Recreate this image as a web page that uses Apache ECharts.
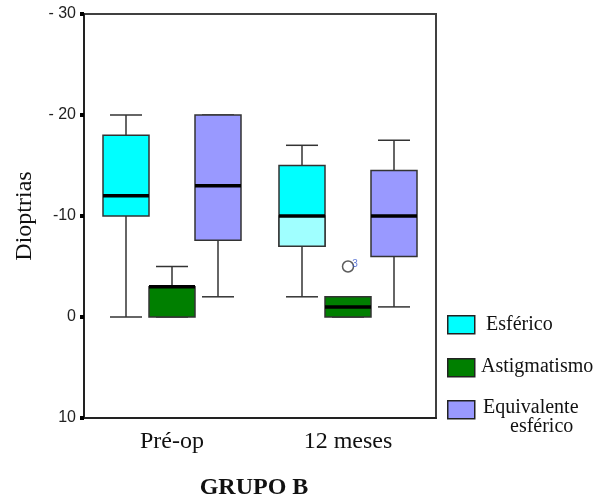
<!DOCTYPE html>
<html>
<head>
<meta charset="utf-8">
<title>Grupo B - Dioptrias</title>
<script src="https://cdn.jsdelivr.net/npm/echarts@6/dist/echarts.min.js"></script>
<style>
  html, body { margin: 0; padding: 0; background: #fff; }
  #chart { width: 596px; height: 498px; }
</style>
</head>
<body>
<div id="chart"></div>
<script>
// Time points on the x axis
const categories = ['Pré-op', '12 meses'];

// Box statistics per time point: [min, Q1, median, Q3, max]
const esferico = [[0, 10, 12, 18, 20], [2, 7, 10, 15, 17]];
const astigmatismo = [[0, 0, 3, 3, 5], [0, 0, 1, 2, 2]];
const equivalente = [[2, 7.6, 13, 20, 20], [1, 6, 10, 14.5, 17.5]];

// Outlying case in the astigmatism group: [time point index, value, case number]
const astigOutliers = [[1, 5, '3']];

// Y axis tick labels as printed
const yTickValues = [-10, 0, 10, 20, 30];
const yTickLabels = ['10', '0', '-10', '- 20', '- 30'];

const seriesNames = ['Esférico', 'Astigmatismo', 'Equivalente esférico'];

// ---- styling ----
const SERIF = '"Liberation Serif", "Times New Roman", serif';
const SANS = '"Liberation Sans", Arial, sans-serif';
const COLORS = ['#00ffff', '#007f00', '#9999ff'];
const BORDER = '#333333';
const BOX_W = 46;          // px
const CAP_W = 32;          // px
const OFFSETS = [-46, 0, 46];
// lighter fill between Q1 and median for one box
const LOWER_FILL = { 0: { 1: '#a0ffff' } };

function rows(stats) {
  return stats.map((s, i) => [i].concat(s));
}

function makeRender(si) {
  return function (params, api) {
    const cat = api.value(0);
    const cx = api.coord([cat, 0])[0] + OFFSETS[si];
    const py = (i) => api.coord([cat, api.value(i)])[1];
    const lo = py(1), q1 = py(2), md = py(3), q3 = py(4), hi = py(5);
    const hw = BOX_W / 2, cw = CAP_W / 2;
    const lineStyle = { stroke: BORDER, lineWidth: 1.5 };
    const children = [
      { type: 'line', shape: { x1: cx, y1: hi, x2: cx, y2: q3 }, style: lineStyle },
      { type: 'line', shape: { x1: cx, y1: q1, x2: cx, y2: lo }, style: lineStyle },
      { type: 'line', shape: { x1: cx - cw, y1: hi, x2: cx + cw, y2: hi }, style: lineStyle },
      { type: 'line', shape: { x1: cx - cw, y1: lo, x2: cx + cw, y2: lo }, style: lineStyle },
      { type: 'rect', shape: { x: cx - hw, y: q3, width: BOX_W, height: q1 - q3 },
        style: { fill: COLORS[si], stroke: BORDER, lineWidth: 1.5 } }
    ];
    const lower = LOWER_FILL[si] && LOWER_FILL[si][cat];
    if (lower) {
      children.push({ type: 'rect', shape: { x: cx - hw, y: md, width: BOX_W, height: q1 - md },
        style: { fill: lower, stroke: BORDER, lineWidth: 1.5 } });
    }
    children.push({ type: 'line', shape: { x1: cx - hw, y1: md, x2: cx + hw, y2: md },
      style: { stroke: '#000', lineWidth: 3.5 } });
    return { type: 'group', children: children };
  };
}

const statSets = [esferico, astigmatismo, equivalente];

const series = statSets.map((stats, si) => ({
  name: seriesNames[si],
  type: 'custom',
  renderItem: makeRender(si),
  encode: { x: 0, y: [1, 2, 3, 4, 5] },
  data: rows(stats),
  z: 3
}));

series.push({
  name: 'Astigmatismo (caso atípico)',
  type: 'scatter',
  data: astigOutliers.map(o => ({ value: [o[0], o[1]], label: { formatter: o[2] } })),
  symbol: 'circle',
  symbolSize: 11,
  symbolOffset: [OFFSETS[1], 0],
  itemStyle: { color: '#fff', borderColor: BORDER, borderWidth: 1.5 },
  label: { show: true, position: 'right', distance: 0, offset: [-2, -2],
           color: '#3355cc', fontSize: 10, fontFamily: SANS },
  z: 4
});

// legend drawn at the right of the frame
const legendTops = [315, 358, 400];
const legendGraphics = [];
seriesNames.forEach((n, i) => {
  legendGraphics.push({
    type: 'rect', left: 447, top: legendTops[i],
    shape: { width: 27, height: 18 },
    style: { fill: COLORS[i], stroke: '#222', lineWidth: 1.5 }
  });
});
const legendText = [
  { text: 'Esférico', x: 486, y: 325 },
  { text: 'Astigmatismo', x: 481, y: 367 },
  { text: 'Equivalente', x: 483, y: 408 },
  { text: 'esférico', x: 510, y: 427 }
];
legendText.forEach(t => {
  legendGraphics.push({
    type: 'text', x: t.x, y: t.y,
    style: { text: t.text, fill: '#111', font: '20px ' + SERIF, textVerticalAlign: 'middle' }
  });
});
legendGraphics.push({
  type: 'text', x: 254, y: 488,
  style: { text: 'GRUPO B', fill: '#111', font: 'bold 24px ' + SERIF,
           textAlign: 'center', textVerticalAlign: 'middle' }
});

const chart = echarts.init(document.getElementById('chart'), null, { renderer: 'canvas' });
chart.setOption({
  animation: false,
  backgroundColor: '#fff',
  grid: { left: 84, right: 160, top: 14, bottom: 80, show: true,
          borderColor: '#404040', borderWidth: 2, backgroundColor: 'transparent' },
  xAxis: {
    type: 'category',
    data: categories,
    boundaryGap: true,
    axisLine: { onZero: false, lineStyle: { color: '#222', width: 2 } },
    axisTick: { alignWithLabel: true, length: 4, lineStyle: { color: '#000', width: 4 } },
    axisLabel: { fontFamily: SERIF, fontSize: 24, color: '#111', margin: 12 },
    splitLine: { show: false }
  },
  yAxis: {
    type: 'value',
    min: -10, max: 30, interval: 10,
    name: 'Dioptrias',
    nameLocation: 'middle',
    nameGap: 47,
    nameRotate: 90,
    nameTextStyle: { fontFamily: SERIF, fontSize: 24, color: '#111' },
    axisLine: { show: true, onZero: false, lineStyle: { color: '#222', width: 2 } },
    axisTick: { show: true, length: 4, lineStyle: { color: '#000', width: 4 } },
    axisLabel: {
      fontFamily: SANS, fontSize: 16, color: '#222', margin: 8,
      formatter: (v) => {
        const k = yTickValues.indexOf(v);
        return k >= 0 ? yTickLabels[k] : '';
      }
    },
    splitLine: { show: false }
  },
  graphic: legendGraphics,
  series: series
});
</script>
</body>
</html>
